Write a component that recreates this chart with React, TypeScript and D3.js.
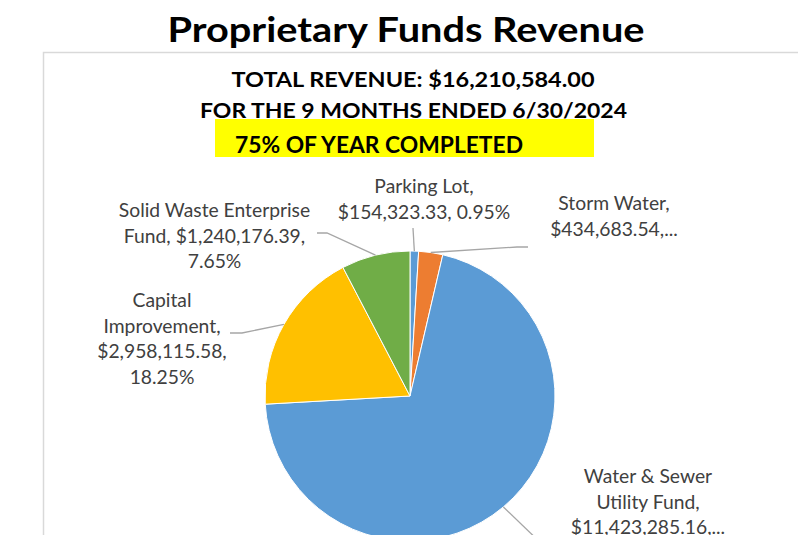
import React from "react";
import * as d3 from "d3";

const categories = [
  "Parking Lot",
  "Storm Water",
  "Water & Sewer Utility Fund",
  "Capital Improvement",
  "Solid Waste Enterprise Fund",
];
const values = [154323.33, 434683.54, 11423285.16, 2958115.58, 1240176.39];
const colors = ["#5B9BD5", "#ED7D31", "#5B9BD5", "#FFC000", "#70AD47"];
const labelLines = [
  ["Parking Lot,", "$154,323.33, 0.95%"],
  ["Storm Water,", "$434,683.54,..."],
  ["Water & Sewer", "Utility Fund,", "$11,423,285.16,..."],
  ["Capital", "Improvement,", "$2,958,115.58,", "18.25%"],
  ["Solid Waste Enterprise", "Fund, $1,240,176.39,", "7.65%"],
];
const title = "Proprietary Funds Revenue";
const subtitles = ["TOTAL REVENUE: $16,210,584.00", "FOR THE 9 MONTHS ENDED 6/30/2024"];
const highlight = "75% OF YEAR COMPLETED";

// layout (positions of labels and leader elbows)
const labelLayout = [
  { x: 424, y: 193, elbow: [[413, 228]] },
  { x: 614, y: 210, elbow: [[517, 247], [528, 247]] },
  { x: 648, y: 483, elbow: [[545, 547]] },
  { x: 162, y: 307, elbow: [[242, 333], [230, 333]] },
  { x: 214.5, y: 217, elbow: [[327, 233], [317, 233]] },
];

const FONT = "Lato, 'Open Sans', sans-serif";

export default function App() {
  const cx = 410;
  const cy = 396;
  const r = 145;
  const pie = d3
    .pie<number>()
    .sort(null)
    .value((d) => d)
    .startAngle(0)
    .endAngle(2 * Math.PI);
  const arcs = pie(values);
  const arc = d3.arc<d3.PieArcDatum<number>>().innerRadius(0).outerRadius(r);
  const line = d3.line();

  return (
    <svg
      width={798}
      height={535}
      style={{ position: "absolute", left: 0, top: 0, background: "#fff" }}
      fontFamily={FONT}
    >
      <rect x={0} y={0} width={798} height={535} fill="#fff" />
      <rect x={43.5} y={52.5} width={800} height={600} fill="#fff" stroke="#D9D9D9" strokeWidth={1.5} />
      <text x={406} y={42} textAnchor="middle" fontSize={34} fontWeight={700} fill="#000" textLength={477} lengthAdjust="spacingAndGlyphs">
        {title}
      </text>
      <text x={413} y={87} textAnchor="middle" fontSize={21} fontWeight={700} fill="#000" textLength={363} lengthAdjust="spacingAndGlyphs">
        {subtitles[0]}
      </text>
      <text x={413.5} y={118} textAnchor="middle" fontSize={21} fontWeight={700} fill="#000" textLength={427} lengthAdjust="spacingAndGlyphs">
        {subtitles[1]}
      </text>
      <rect x={215} y={119} width={379} height={38} fill="#FFFF00" />
      <text x={379} y={153} textAnchor="middle" fontSize={22} fontWeight={700} fill="#000" textLength={288} lengthAdjust="spacingAndGlyphs">
        {highlight}
      </text>
      <g transform={`translate(${cx},${cy})`}>
        {arcs.map((a, i) => (
          <path key={categories[i]} d={arc(a) || ""} fill={colors[i]} stroke="#fff" strokeWidth={1} />
        ))}
      </g>
      {arcs.map((a, i) => {
        const mid = (a.startAngle + a.endAngle) / 2;
        const p0: [number, number] = [cx + r * Math.sin(mid), cy - r * Math.cos(mid)];
        const pts = [p0, ...(labelLayout[i].elbow as [number, number][])];
        return (
          <path key={"l" + i} d={line(pts) || ""} fill="none" stroke="#A6A6A6" strokeWidth={1.3} />
        );
      })}
      {labelLines.map((lines, i) => (
        <text key={"t" + i} textAnchor="middle" fontSize={19.3} fill="#404040">
          {lines.map((ln, j) => (
            <tspan key={j} x={labelLayout[i].x} y={labelLayout[i].y + j * 25.5}>
              {ln}
            </tspan>
          ))}
        </text>
      ))}
    </svg>
  );
}
